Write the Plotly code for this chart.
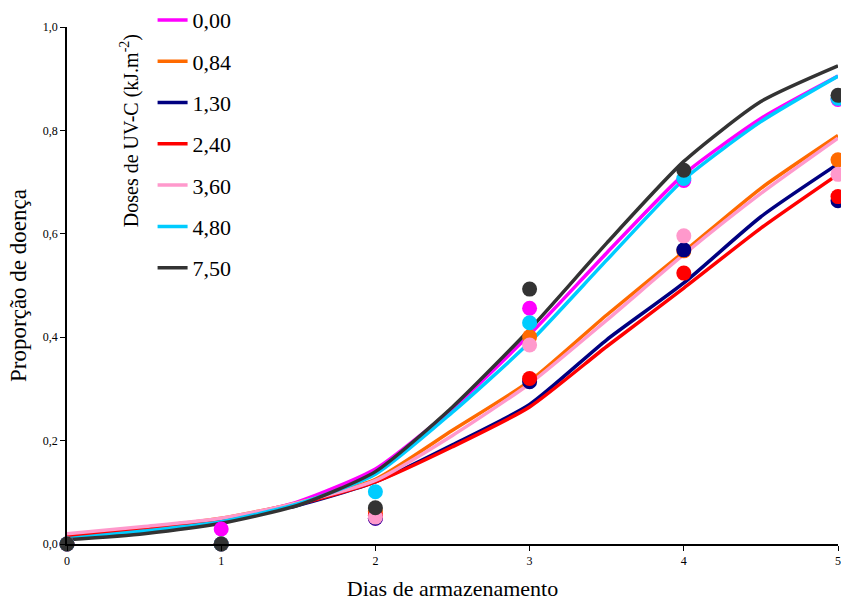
import plotly.graph_objects as go

# Storage days where disease proportion was observed
dias = [0, 1, 2, 3, 4, 5]

# Fitted-curve sampling grid and fitted proportions per UV-C dose
dias_ajuste = [0, 0.5, 1, 1.5, 2, 2.5, 3, 3.5, 4, 4.5, 5]

doses = ["0,00", "0,84", "1,30", "2,40", "3,60", "4,80", "7,50"]
cores = ["#FF00FF", "#FF6A00", "#000080", "#FF0000", "#FF99CC", "#00CCFF", "#333333"]

obs_000 = [0, 0.029, 0.050, 0.456, 0.703, 0.860]
obs_084 = [0, 0, 0.063, 0.401, 0.567, 0.743]
obs_130 = [0, 0, 0.050, 0.314, 0.569, 0.664]
obs_240 = [0, 0, 0.055, 0.320, 0.524, 0.672]
obs_360 = [0, 0, 0.052, 0.385, 0.596, 0.715]
obs_480 = [0, 0, 0.101, 0.428, 0.707, 0.862]
obs_750 = [0, 0, 0.070, 0.493, 0.723, 0.868]

aj_000 = [0.012, 0.028, 0.047, 0.082, 0.145, 0.262, 0.405, 0.563, 0.715, 0.823, 0.905]
aj_084 = [0.018, 0.032, 0.050, 0.080, 0.125, 0.220, 0.315, 0.443, 0.565, 0.688, 0.790]
aj_130 = [0.012, 0.028, 0.047, 0.075, 0.120, 0.192, 0.270, 0.395, 0.505, 0.633, 0.735]
aj_240 = [0.015, 0.030, 0.048, 0.077, 0.120, 0.188, 0.265, 0.382, 0.495, 0.611, 0.715]
aj_360 = [0.020, 0.034, 0.050, 0.080, 0.123, 0.210, 0.310, 0.433, 0.560, 0.678, 0.785]
aj_480 = [0.010, 0.025, 0.043, 0.078, 0.135, 0.255, 0.390, 0.549, 0.705, 0.817, 0.905]
aj_750 = [0.008, 0.020, 0.040, 0.075, 0.140, 0.265, 0.415, 0.582, 0.740, 0.856, 0.925]

observados = [obs_000, obs_084, obs_130, obs_240, obs_360, obs_480, obs_750]
ajustados = [aj_000, aj_084, aj_130, aj_240, aj_360, aj_480, aj_750]

fonte = "Liberation Serif, Times New Roman, serif"

fig = go.Figure()

# Fitted curves (shown in the legend)
for i, (dose, cor, aj) in enumerate(zip(doses, cores, ajustados)):
    fig.add_trace(go.Scatter(
        x=dias_ajuste, y=aj, mode="lines", name=dose,
        line=dict(color=cor, width=3.5, shape="spline", smoothing=0.6),
        legendgroup=f"g{i}",
    ))

# Observed proportions
for i, (dose, cor, obs) in enumerate(zip(doses, cores, observados)):
    fig.add_trace(go.Scatter(
        x=dias, y=obs, mode="markers", name=dose, showlegend=False,
        marker=dict(color=cor, size=15, line=dict(width=0)),
        cliponaxis=False, legendgroup=f"g{i}",
    ))

fig.update_layout(
    width=841, height=601,
    margin=dict(l=67, r=3, t=27, b=57, autoexpand=False),
    paper_bgcolor="white", plot_bgcolor="white",
    separators=",.",
    font=dict(family=fonte, color="black"),
    showlegend=True,
    legend=dict(
        x=0.111, y=1.054, xanchor="left", yanchor="top",
        font=dict(family=fonte, size=22, color="black"),
        bgcolor="rgba(0,0,0,0)", tracegroupgap=9.7,
        itemwidth=30, maxheight=500,
    ),
    xaxis=dict(
        range=[0, 5], tickvals=dias, ticktext=[str(d) for d in dias],
        showgrid=False, zeroline=False, showline=True, linecolor="black",
        linewidth=1.5, ticks="outside", ticklen=5, tickcolor="black",
        tickfont=dict(family=fonte, size=12), ticklabeloverflow="allow",
        title=dict(text="Dias de armazenamento", font=dict(family=fonte, size=22), standoff=15),
    ),
    yaxis=dict(
        range=[0, 1], dtick=0.2, tickformat=".1f",
        showgrid=False, zeroline=False, showline=True, linecolor="black",
        linewidth=1.5, ticks="outside", ticklen=5, tickcolor="black",
        tickfont=dict(family=fonte, size=12),
        title=dict(text="Proporção de doença", font=dict(family=fonte, size=23), standoff=10),
    ),
    annotations=[dict(
        text="Doses de UV-C (kJ.m<sup>-2</sup>)", textangle=-90,
        xref="paper", yref="paper", x=0.082, y=0.799,
        xanchor="center", yanchor="middle", showarrow=False,
        font=dict(family=fonte, size=20, color="black"),
    )],
)

fig.write_html("out.html")
